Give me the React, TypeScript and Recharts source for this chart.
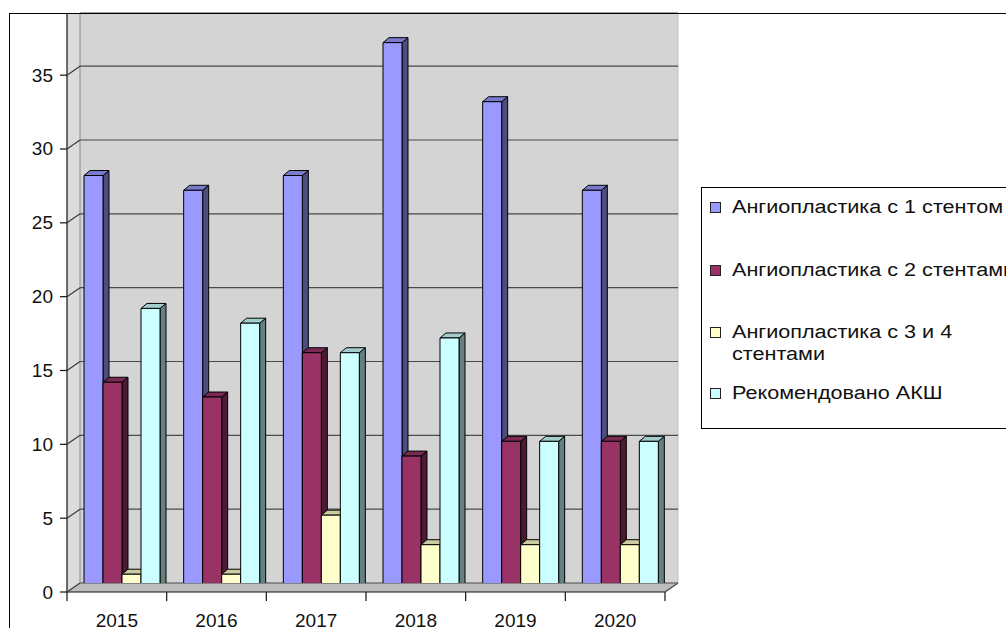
import React from 'react';
import { BarChart, Bar, XAxis, YAxis, CartesianGrid } from 'recharts';

const years = ['2015', '2016', '2017', '2018', '2019', '2020'];
const oneStent = [28, 27, 28, 37, 33, 27];
const twoStents = [14, 13, 16, 9, 10, 10];
const threeFourStents = [1, 1, 5, 3, 3, 3];
const cabgRecommended = [19, 18, 16, 17, 10, 10];
const yTicks = [0, 5, 10, 15, 20, 25, 30, 35];

const series = [
  { key: 'oneStent', name: 'Ангиопластика с 1 стентом', color: '#9999FF', values: oneStent },
  { key: 'twoStents', name: 'Ангиопластика с 2 стентами', color: '#993366', values: twoStents },
  { key: 'threeFourStents', name: 'Ангиопластика с 3 и 4 стентами', color: '#FFFFCC', values: threeFourStents },
  { key: 'cabg', name: 'Рекомендовано АКШ', color: '#CCFFFF', values: cabgRecommended },
];

const data = years.map((year, i) => {
  const row: Record<string, string | number> = { year };
  series.forEach(s => { row[s.key] = s.values[i]; });
  return row;
});

// back wall of the 3d box, in page pixels
const W = 1006;
const H = 628;
const PLOT = { left: 80, right: 678, top: 13, bottom: 583 };
const Y_MAX = 38.6;
// front plane sits left/down of the back wall
const DEPTH = { dx: 13, dy: 9 };
// bars stand a bit in front of the wall and have their own depth
const BAR_SHIFT = { dx: -8, dy: 6 };
const BAR_DEPTH = { dx: 6, dy: 5 };
const BAND = (PLOT.right - PLOT.left) / years.length;
const FONT = '"Liberation Sans", Arial, sans-serif';

function shade(hex: string, k: number) {
  const n = parseInt(hex.slice(1), 16);
  const r = Math.round(((n >> 16) & 255) * k);
  const g = Math.round(((n >> 8) & 255) * k);
  const b = Math.round((n & 255) * k);
  return `rgb(${r},${g},${b})`;
}

function Bar3D(props: any) {
  const { x, y, width, height, fill } = props;
  if (!width || height <= 0) return null;
  const fx = x + BAR_SHIFT.dx;
  const fy = y + BAR_SHIFT.dy;
  const { dx, dy } = BAR_DEPTH;
  const top = `${fx},${fy} ${fx + dx},${fy - dy} ${fx + width + dx},${fy - dy} ${fx + width},${fy}`;
  const side = `${fx + width},${fy} ${fx + width + dx},${fy - dy} ${fx + width + dx},${fy + height - dy} ${fx + width},${fy + height}`;
  return (
    <g stroke="#000" strokeWidth={1} strokeLinejoin="round">
      <polygon points={side} fill={shade(fill, 0.5)} />
      <polygon points={top} fill={shade(fill, 0.8)} />
      <rect x={fx} y={fy} width={width} height={height} fill={fill} />
    </g>
  );
}

function YTick(props: any) {
  const { y, payload } = props;
  const fx = PLOT.left - DEPTH.dx;
  const fy = y + DEPTH.dy;
  return (
    <g>
      <line x1={fx} y1={fy} x2={PLOT.left} y2={y} stroke="#3a3a3a" strokeWidth={1.2} />
      <line x1={fx - 7} y1={fy} x2={fx} y2={fy} stroke="#111" strokeWidth={1.2} />
      <text x={53} y={fy} textAnchor="end" dominantBaseline="central" fontSize={19} fill="#111" fontFamily={FONT}>
        {payload.value}
      </text>
    </g>
  );
}

function XTick(props: any) {
  const { x, payload, index } = props;
  const cx = x - DEPTH.dx;
  const fy = PLOT.bottom + DEPTH.dy;
  const left = cx - BAND / 2;
  const right = cx + BAND / 2;
  return (
    <g>
      <line x1={left} y1={fy} x2={left} y2={fy + 9} stroke="#111" strokeWidth={1.2} />
      {index === years.length - 1 && (
        <line x1={right} y1={fy} x2={right} y2={fy + 9} stroke="#111" strokeWidth={1.2} />
      )}
      <text x={cx} y={fy + 28} textAnchor="middle" dominantBaseline="central" fontSize={19} fill="#111" fontFamily={FONT}>
        {payload.value}
      </text>
    </g>
  );
}

function Box() {
  const fl = PLOT.left - DEPTH.dx;
  const fr = PLOT.right - DEPTH.dx;
  const fb = PLOT.bottom + DEPTH.dy;
  return (
    <svg width={W} height={H} style={{ position: 'absolute', left: 0, top: 0 }}>
      <rect x={PLOT.left} y={PLOT.top} width={PLOT.right - PLOT.left} height={PLOT.bottom - PLOT.top} fill="#d4d4d4" />
      <polygon points={`${fl},${PLOT.top} ${PLOT.left},${PLOT.top} ${PLOT.left},${PLOT.bottom} ${fl},${fb}`} fill="#dcdcdc" />
      <polygon points={`${fl},${fb} ${PLOT.left},${PLOT.bottom} ${PLOT.right},${PLOT.bottom} ${fr},${fb}`} fill="#bdbdbd" />
      <line x1={PLOT.left} y1={PLOT.top} x2={PLOT.left} y2={PLOT.bottom} stroke="#8a8a8a" />
      <line x1={PLOT.right} y1={PLOT.top} x2={PLOT.right} y2={PLOT.bottom} stroke="#c2c2c2" />
      <line x1={fl} y1={PLOT.top} x2={fl} y2={fb} stroke="#111" strokeWidth={1.2} />
      <line x1={fl} y1={fb} x2={fr} y2={fb} stroke="#111" strokeWidth={1.2} />
      <line x1={fr} y1={fb} x2={PLOT.right} y2={PLOT.bottom} stroke="#444" strokeWidth={1.2} />
    </svg>
  );
}

const legendRowTop = [8, 71, 133, 194];

// legend text in this chart is drawn noticeably wide, so it gets a horizontal stretch
function LegendBox() {
  return (
    <div style={{
      position: 'absolute', left: 701, top: 187, width: 330, height: 240,
      border: '1px solid #000', background: '#fff', fontFamily: FONT, fontSize: 18, color: '#111',
    }}>
      {series.map((s, i) => (
        <div key={s.key} style={{ position: 'absolute', left: 8, top: legendRowTop[i], display: 'flex', alignItems: 'flex-start' }}>
          <div style={{ width: 9, height: 9, marginTop: 6, border: '1px solid #222', background: s.color }} />
          <div style={{ marginLeft: 11, width: 255, lineHeight: '22px', transform: 'scaleX(1.2)', transformOrigin: 'left top' }}>
            {s.name}
          </div>
        </div>
      ))}
    </div>
  );
}

export default function App() {
  return (
    <div style={{ position: 'absolute', left: 0, top: 0, width: W, height: H, overflow: 'hidden', background: '#fff' }}>
      <Box />
      <div style={{ position: 'absolute', left: 0, top: 0 }}>
        <BarChart
          width={W}
          height={H}
          data={data}
          margin={{ top: PLOT.top, left: PLOT.left - 1, right: W - PLOT.right, bottom: H - PLOT.bottom - 1 }}
          barGap={0}
          barCategoryGap="12%"
        >
          <CartesianGrid vertical={false} stroke="#4a4a4a" strokeWidth={1.2} />
          <XAxis dataKey="year" height={1} axisLine={false} tickLine={false} interval={0} tick={<XTick />} />
          <YAxis
            width={1}
            domain={[0, Y_MAX]}
            ticks={yTicks}
            interval={0}
            allowDataOverflow
            axisLine={false}
            tickLine={false}
            tick={<YTick />}
          />
          {series.map(s => (
            <Bar key={s.key} dataKey={s.key} name={s.name} fill={s.color} barSize={19} shape={<Bar3D />} isAnimationActive={false} />
          ))}
        </BarChart>
      </div>
      <LegendBox />
      <div style={{ position: 'absolute', left: 9, top: 13, width: 1100, height: 700, border: '1px solid #000', pointerEvents: 'none' }} />
    </div>
  );
}
